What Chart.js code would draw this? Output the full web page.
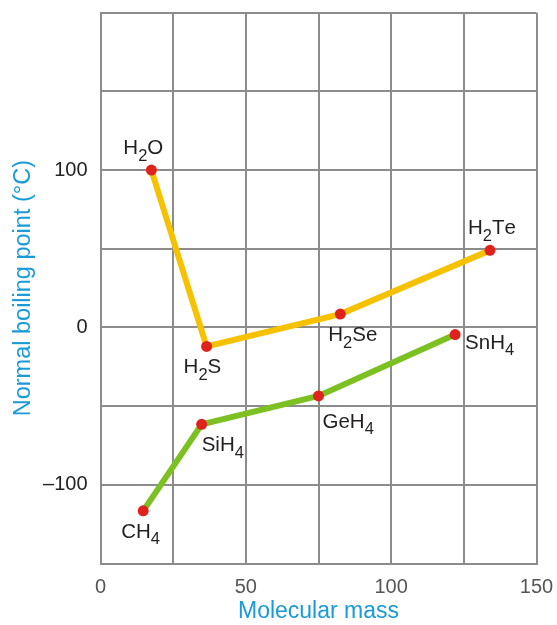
<!DOCTYPE html>
<html>
<head>
<meta charset="utf-8">
<script src="https://cdn.jsdelivr.net/npm/chart.js@4.4.1/dist/chart.umd.min.js"></script>
<style>
  html, body { margin: 0; padding: 0; background: #fff; }
  #wrap { width: 557px; height: 625px; position: relative; }
</style>
</head>
<body>
<div id="wrap"><canvas id="bp-chart"></canvas></div>
<script>
// 数据：第16族和第14族氢化物的分子量与沸点
const group16Names = ['H_2O', 'H_2S', 'H_2Se', 'H_2Te'];
const group16Mass = [17.5, 36.5, 82.5, 134];
const group16Boiling = [100, -12, 8.5, 49];

const group14Names = ['CH_4', 'SiH_4', 'GeH_4', 'SnH_4'];
const group14Mass = [14.7, 34.8, 75, 122];
const group14Boiling = [-116.5, -61.5, -43.5, -4.5];

const xTickValues = [0, 50, 100, 150];
const yTickValues = [100, 0, -100];
const yTickLabels = ['100', '0', '\u2013100'];

const FONT = "'Liberation Sans', Arial, Helvetica, sans-serif";

function toPoints(xs, ys) {
    return xs.map((x, i) => ({ x: x, y: ys[i] }));
}

// 不让坐标轴为刻度文字额外留边，图区大小只由 layout.padding 决定
function noScalePadding(scale) {
    scale.paddingTop = 0;
    scale.paddingBottom = 0;
    scale.paddingLeft = 0;
    scale.paddingRight = 0;
}

// 在每个点旁边画化学式，数字用下标
const formulaLabels = {
    id: 'formulaLabels',
    afterDatasetsDraw(chart, args, opts) {
        const ctx = chart.ctx;
        ctx.save();
        ctx.fillStyle = opts.color;
        ctx.textBaseline = 'alphabetic';
        ctx.textAlign = 'left';
        chart.data.datasets.forEach((ds, di) => {
            const meta = chart.getDatasetMeta(di);
            const offsets = opts.offsets[di];
            ds.names.forEach((name, i) => {
                const pt = meta.data[i];
                let x = pt.x + offsets[i][0];
                const y = pt.y + offsets[i][1];
                for (let k = 0; k < name.length; k++) {
                    let ch = name[k];
                    if (ch === '_') {
                        ch = name[++k];
                        ctx.font = opts.subSize + 'px ' + FONT;
                        ctx.fillText(ch, x, y + opts.subShift);
                    } else {
                        ctx.font = opts.size + 'px ' + FONT;
                        ctx.fillText(ch, x, y);
                    }
                    x += ctx.measureText(ch).width;
                }
            });
        });
        ctx.restore();
    }
};

const gridColor = '#8c8c8c';

new Chart(document.getElementById('bp-chart'), {
    type: 'line',
    data: {
        datasets: [
            {
                names: group16Names,
                data: toPoints(group16Mass, group16Boiling),
                borderColor: '#f6c200',
                borderWidth: 6,
                pointBackgroundColor: '#e0221c',
                pointBorderWidth: 0,
                pointRadius: 5.5,
                tension: 0
            },
            {
                names: group14Names,
                data: toPoints(group14Mass, group14Boiling),
                borderColor: '#7cc121',
                borderWidth: 6,
                pointBackgroundColor: '#e0221c',
                pointBorderWidth: 0,
                pointRadius: 5.5,
                tension: 0
            }
        ]
    },
    options: {
        responsive: true,
        maintainAspectRatio: false,
        animation: false,
        layout: {
            padding: { left: 0, right: 20.5, top: 12.7, bottom: 0 }
        },
        scales: {
            x: {
                type: 'linear',
                min: 0,
                max: 150,
                afterFit: function(scale) {
                    scale.height = 61.4;
                    noScalePadding(scale);
                },
                ticks: {
                    stepSize: 25,
                    padding: 12,
                    color: '#555',
                    font: { size: 20, family: FONT },
                    maxRotation: 0,
                    autoSkip: false,
                    callback: function(value) {
                        return xTickValues.includes(value) ? String(value) : '';
                    }
                },
                grid: { color: gridColor, lineWidth: 2, drawTicks: false },
                border: { color: gridColor, width: 2 },
                title: {
                    display: true,
                    text: 'Molecular mass',
                    color: '#1a9ad7',
                    font: { size: 23, family: FONT },
                    padding: { top: 0, bottom: 0 }
                }
            },
            y: {
                type: 'linear',
                min: -150,
                max: 200,
                afterFit: function(scale) {
                    scale.width = 100.5;
                    noScalePadding(scale);
                },
                ticks: {
                    stepSize: 50,
                    padding: 13,
                    color: '#222',
                    font: { size: 20, family: FONT },
                    autoSkip: false,
                    callback: function(value) {
                        const i = yTickValues.indexOf(value);
                        return i >= 0 ? yTickLabels[i] : '';
                    }
                },
                grid: { color: gridColor, lineWidth: 2, drawTicks: false },
                border: { color: gridColor, width: 2 },
                title: {
                    display: true,
                    text: 'Normal boiling point (\u00b0C)',
                    color: '#1a9ad7',
                    font: { size: 23.5, family: FONT },
                    padding: { top: 9, bottom: 0 }
                }
            }
        },
        plugins: {
            legend: { display: false },
            tooltip: { enabled: false },
            formulaLabels: {
                color: '#231f20',
                size: 20.5,
                subSize: 16.5,
                subShift: 6.5,
                offsets: [
                    [[-28, -16], [-23, 27], [-12, 27], [-22, -16]],
                    [[-22, 27], [0, 27], [4, 32], [10, 14]]
                ]
            }
        }
    },
    plugins: [formulaLabels]
});
</script>
</body>
</html>
